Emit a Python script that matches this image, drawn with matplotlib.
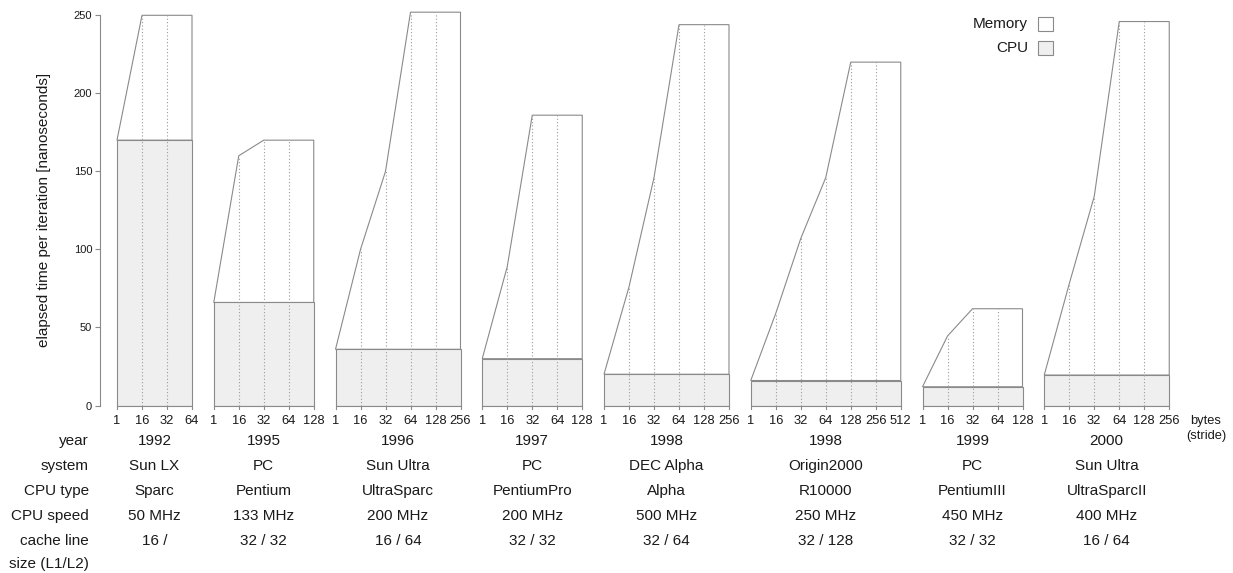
import matplotlib
matplotlib.use("Agg")
import matplotlib.pyplot as plt
from matplotlib.patches import Rectangle, Polygon
from matplotlib.transforms import blended_transform_factory
from matplotlib import font_manager

# ---- data -------------------------------------------------------------
years = ["1992", "1995", "1996", "1997", "1998", "1998", "1999", "2000"]
system_names = ["Sun LX", "PC", "Sun Ultra", "PC", "DEC Alpha", "Origin2000", "PC", "Sun Ultra"]
cpu_types = ["Sparc", "Pentium", "UltraSparc", "PentiumPro", "Alpha", "R10000", "PentiumIII", "UltraSparcII"]
cpu_speeds = ["50 MHz", "133 MHz", "200 MHz", "200 MHz", "500 MHz", "250 MHz", "450 MHz", "400 MHz"]
cache_lines = ["16 /", "32 / 32", "16 / 64", "32 / 32", "32 / 64", "32 / 128", "32 / 32", "16 / 64"]

strides = [
    [1, 16, 32, 64],
    [1, 16, 32, 64, 128],
    [1, 16, 32, 64, 128, 256],
    [1, 16, 32, 64, 128],
    [1, 16, 32, 64, 128, 256],
    [1, 16, 32, 64, 128, 256, 512],
    [1, 16, 32, 64, 128],
    [1, 16, 32, 64, 128, 256],
]
# CPU part of the elapsed time (ns)
cpu_time = [170, 66, 36, 30, 20, 16, 12, 19.5]
# total elapsed time per iteration (ns) for each stride
total_time = [
    [170, 250, 250, 250],
    [66, 160, 170, 170, 170],
    [36, 100, 150, 252, 252, 252],
    [30, 89, 186, 186, 186],
    [20, 76, 146, 244, 244, 244],
    [16, 59, 107, 146, 220, 220, 220],
    [12, 44.5, 62, 62, 62],
    [19.5, 78, 134, 246, 246, 246],
]
row_labels = ["year", "system", "CPU type", "CPU speed", "cache line"]
y_ticks = [0, 50, 100, 150, 200, 250]

# ---- style ------------------------------------------------------------
names = {f.name for f in font_manager.fontManager.ttflist}
NARROW = "Liberation Sans Narrow" if "Liberation Sans Narrow" in names else "Liberation Sans"
plt.rcParams["font.family"] = ["Liberation Sans", "DejaVu Sans"]

LINE = "#8a8a8a"
DOT = "#9a9a9a"
CPU_FILL = "#efefef"
TEXT = "#1a1a1a"
TABLE_FS = 11
TICK_FS = 9.3

W, H = 1233, 573
fig = plt.figure(figsize=(W / 100, H / 100), dpi=100)


def fy(y):
    """pixel row (from top) -> figure fraction"""
    return 1 - y / H


X0, UNIT = 117.0, 25.0          # pixel of first panel start, pixels per stride step
Y_BOT, Y_TOP = 405.5, 15.3
ax = fig.add_axes([100 / W, fy(Y_BOT), (W - 100) / W, (Y_BOT - Y_TOP) / H])
ax.set_xlim((100 - X0) / UNIT, (W - X0) / UNIT)
ax.set_ylim(0, 250)
for s in ("top", "right", "bottom"):
    ax.spines[s].set_visible(False)
ax.spines["left"].set_color(LINE)
ax.spines["left"].set_linewidth(0.8)
ax.set_xticks([])
ax.set_yticks(y_ticks)
ax.tick_params(axis="y", length=3.6, width=0.8, color=LINE, labelsize=8,
               labelcolor=TEXT, pad=2)

trans = blended_transform_factory(ax.transData, fig.transFigure)
ns_per_px = 250 / (Y_BOT - Y_TOP)

GAP = 0.87
start = 0.0
centers = []
for i, st in enumerate(strides):
    n = len(st)
    xs = [start + k for k in range(n)]
    c = cpu_time[i]
    tot = total_time[i]
    centers.append((xs[0] + xs[-1]) / 2)

    # memory region (white) bounded by the total-time curve
    mem = Polygon([(xs[0], c)] + list(zip(xs, tot)) + [(xs[-1], c)],
                  closed=True, facecolor="white", edgecolor=LINE,
                  linewidth=0.8, zorder=2, clip_on=False)
    ax.add_patch(mem)
    # CPU part (light grey)
    ax.add_patch(Rectangle((xs[0], 0), n - 1, c, facecolor=CPU_FILL,
                           edgecolor=LINE, linewidth=0.8, zorder=3))
    # dotted stride guides
    for k in range(1, n - 1):
        ax.plot([xs[k], xs[k]], [0, tot[k]], linestyle=(0, (1, 2)),
                color=DOT, linewidth=0.8, zorder=4)
    # baseline with little ticks
    ax.plot([xs[0], xs[-1]], [0, 0], color=LINE, linewidth=0.8, zorder=5,
            clip_on=False)
    for x, s_val in zip(xs, st):
        ax.plot([x, x], [0, -3 * ns_per_px], color=LINE, linewidth=0.8,
                zorder=5, clip_on=False)
        ax.text(x, fy(420.7), str(s_val), transform=trans,
                ha="center", va="center", fontsize=TICK_FS, family=NARROW,
                color=TEXT)
    start = xs[-1] + GAP

# ---- table below the panels -------------------------------------------
row_y = [440.7, 466.0, 491.0, 516.0, 541.0]
row_vals = [years, system_names, cpu_types, cpu_speeds, cache_lines]
for label, yy, vals in zip(row_labels, row_y, row_vals):
    fig.text(89 / W, fy(yy), label, ha="right", va="center", fontsize=TABLE_FS,
             color=TEXT)
    for cx, v in zip(centers, vals):
        ax.text(cx, fy(yy), v, transform=trans, ha="center", va="center",
                fontsize=TABLE_FS, color=TEXT)
fig.text(89 / W, fy(564), "size (L1/L2)", ha="right", va="center",
         fontsize=TABLE_FS, color=TEXT)

fig.text(1206 / W, fy(420.7), "bytes", ha="center", va="center",
         fontsize=TICK_FS, family=NARROW, color=TEXT)
fig.text(1206 / W, fy(435.5), "(stride)", ha="center", va="center",
         fontsize=TICK_FS, family=NARROW, color=TEXT)

# ---- y axis label --------------------------------------------------------
fig.text(44 / W, fy(210), "elapsed time per iteration [nanoseconds]",
         rotation=90, ha="center", va="center", fontsize=11, color=TEXT)

# ---- legend ----------------------------------------------------------------
for lab, yc, fc in (("Memory", 24.0, "white"), ("CPU", 47.5, CPU_FILL)):
    fig.patches.append(Rectangle((1038 / W, fy(yc + 7)), 15 / W, 14 / H,
                                 transform=fig.transFigure, facecolor=fc,
                                 edgecolor=LINE, linewidth=0.8))
    fig.text(1028 / W, fy(yc), lab, ha="right", va="center", fontsize=TABLE_FS,
             color=TEXT)

fig.savefig("out.png", dpi=100)
